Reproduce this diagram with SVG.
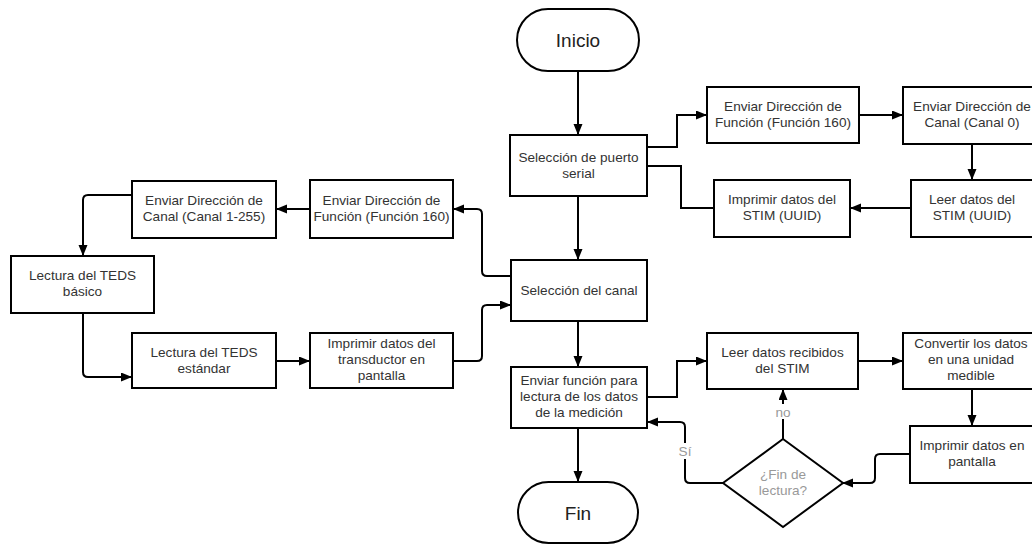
<svg xmlns="http://www.w3.org/2000/svg" width="1032" height="544" viewBox="0 0 1032 544">
  <style>
    .box { fill: #ffffff; stroke: #000000; stroke-width: 2; }
    .lbl { font-family: "Liberation Sans", Arial, sans-serif; font-size: 13.6px; fill: #333333; text-anchor: middle; }
    .big { font-family: "Liberation Sans", Arial, sans-serif; font-size: 19px; fill: #222222; text-anchor: middle; }
    .dim { font-family: "Liberation Sans", Arial, sans-serif; font-size: 13.6px; fill: #999999; text-anchor: middle; }
    .wire { fill: none; stroke: #000000; stroke-width: 2; }
    .arrow { marker-end: url(#head); }
  </style>
  <defs>
    <marker id="head" markerUnits="userSpaceOnUse" markerWidth="12" markerHeight="10" refX="11" refY="4.5" orient="auto">
      <path d="M0,0 L11,4.5 L0,9 z" fill="#000000"/>
    </marker>
  </defs>
  <rect width="1032" height="544" fill="#ffffff"/>

  <!-- connectors -->
  <g id="connectors">
    <!-- main column -->
    <path class="wire arrow" d="M578,71 V135"/>
    <path class="wire arrow" d="M578,196 V260"/>
    <path class="wire arrow" d="M578,321 V367"/>
    <path class="wire arrow" d="M578,428 V482"/>

    <!-- STIM identification branch -->
    <path class="wire arrow" d="M647,147 H677 V115 H707"/>
    <path class="wire arrow" d="M859,115 H903"/>
    <path class="wire arrow" d="M972,144 V180"/>
    <path class="wire arrow" d="M911,208 H850"/>
    <path class="wire" d="M714,208 H681 V166 H647"/>

    <!-- TEDS branch -->
    <path class="wire arrow" d="M511,276 H487 Q482,276 482,271 V214 Q482,209 477,209 H453"/>
    <path class="wire arrow" d="M310,209 H276"/>
    <path class="wire arrow" d="M132,195 H88 Q83,195 83,200 V256"/>
    <path class="wire arrow" d="M83,313 V372 Q83,377 88,377 H132"/>
    <path class="wire arrow" d="M276,361 H310"/>
    <path class="wire arrow" d="M453,361 H477 Q482,361 482,356 V310 Q482,305 487,305 H511"/>

    <!-- measurement loop -->
    <path class="wire arrow" d="M647,397 H677 V361 H707"/>
    <path class="wire arrow" d="M858,361 H903"/>
    <path class="wire arrow" d="M972,389 V426"/>
    <path class="wire arrow" d="M910,454 H880 Q875,454 875,459 V478 Q875,483 870,483 H842"/>
    <path class="wire arrow" d="M783,439 V389"/>
    <path class="wire arrow" d="M723,483 H690 Q685,483 685,478 V427 Q685,422 680,422 H647"/>

    <!-- branch labels -->
    <rect x="774" y="404" width="18" height="15" fill="#ffffff"/>
    <text class="dim" x="783" y="417">no</text>
    <rect x="677" y="443" width="16" height="16" fill="#ffffff"/>
    <text class="dim" x="685" y="456">Sí</text>
  </g>

  <!-- terminators -->
  <g id="inicio">
    <rect class="box" x="517" y="9" width="122" height="62" rx="31" ry="31"/>
    <text class="big" x="578" y="47">Inicio</text>
  </g>
  <g id="fin">
    <rect class="box" x="518" y="482" width="120" height="61" rx="30.5" ry="30.5"/>
    <text class="big" x="578" y="519.5">Fin</text>
  </g>

  <!-- main column -->
  <g id="seleccion-puerto">
    <rect class="box" x="510" y="135" width="137" height="61"/>
    <text class="lbl" x="578.5" y="162">Selección de puerto<tspan x="578.5" dy="16">serial</tspan></text>
  </g>
  <g id="seleccion-canal">
    <rect class="box" x="511" y="260" width="136" height="61"/>
    <text class="lbl" x="579" y="295">Selección del canal</text>
  </g>
  <g id="enviar-funcion">
    <rect class="box" x="511" y="367" width="136" height="61"/>
    <text class="lbl" x="579" y="385">Enviar función para<tspan x="579" dy="16">lectura de los datos</tspan><tspan x="579" dy="16">de la medición</tspan></text>
  </g>

  <!-- STIM identification -->
  <g id="dir-funcion-stim">
    <rect class="box" x="707" y="87" width="152" height="56"/>
    <text class="lbl" x="783" y="111">Enviar Dirección de<tspan x="783" dy="16">Función (Función 160)</tspan></text>
  </g>
  <g id="dir-canal-0">
    <rect class="box" x="903" y="87" width="138" height="57"/>
    <text class="lbl" x="972" y="111">Enviar Dirección de<tspan x="972" dy="16">Canal (Canal 0)</tspan></text>
  </g>
  <g id="leer-stim">
    <rect class="box" x="911" y="180" width="122" height="57"/>
    <text class="lbl" x="972" y="204">Leer datos del<tspan x="972" dy="16">STIM (UUID)</tspan></text>
  </g>
  <g id="imprimir-stim">
    <rect class="box" x="714" y="180" width="136" height="57"/>
    <text class="lbl" x="782" y="204">Imprimir datos del<tspan x="782" dy="16">STIM (UUID)</tspan></text>
  </g>

  <!-- TEDS reading -->
  <g id="dir-funcion-teds">
    <rect class="box" x="310" y="180" width="143" height="58"/>
    <text class="lbl" x="381.5" y="205">Enviar Dirección de<tspan x="381.5" dy="16">Función (Función 160)</tspan></text>
  </g>
  <g id="dir-canal-teds">
    <rect class="box" x="132" y="181" width="144" height="57"/>
    <text class="lbl" x="204" y="205">Enviar Dirección de<tspan x="204" dy="16">Canal (Canal 1-255)</tspan></text>
  </g>
  <g id="teds-basico">
    <rect class="box" x="11" y="256" width="143" height="57"/>
    <text class="lbl" x="82.5" y="280">Lectura del TEDS<tspan x="82.5" dy="16">básico</tspan></text>
  </g>
  <g id="teds-estandar">
    <rect class="box" x="132" y="333" width="144" height="55"/>
    <text class="lbl" x="204" y="357">Lectura del TEDS<tspan x="204" dy="16">estándar</tspan></text>
  </g>
  <g id="imprimir-transductor">
    <rect class="box" x="310" y="333" width="143" height="55"/>
    <text class="lbl" x="381.5" y="348">Imprimir datos del<tspan x="381.5" dy="16">transductor en</tspan><tspan x="381.5" dy="16">pantalla</tspan></text>
  </g>

  <!-- measurement loop -->
  <g id="leer-recibidos">
    <rect class="box" x="707" y="333" width="151" height="56"/>
    <text class="lbl" x="782.5" y="357">Leer datos recibidos<tspan x="782.5" dy="16">del STIM</tspan></text>
  </g>
  <g id="convertir">
    <rect class="box" x="903" y="333" width="138" height="56"/>
    <text class="lbl" x="971" y="348">Convertir los datos<tspan x="971" dy="16">en una unidad</tspan><tspan x="971" dy="16">medible</tspan></text>
  </g>
  <g id="imprimir-pantalla">
    <rect class="box" x="910" y="426" width="124" height="57"/>
    <text class="lbl" x="972" y="450">Imprimir datos en<tspan x="972" dy="16">pantalla</tspan></text>
  </g>
  <g id="fin-lectura">
    <polygon class="box" points="783,439 843,483 783,527 723,483"/>
    <text class="dim" x="783" y="479">¿Fin de<tspan x="783" dy="16">lectura?</tspan></text>
  </g>
</svg>
